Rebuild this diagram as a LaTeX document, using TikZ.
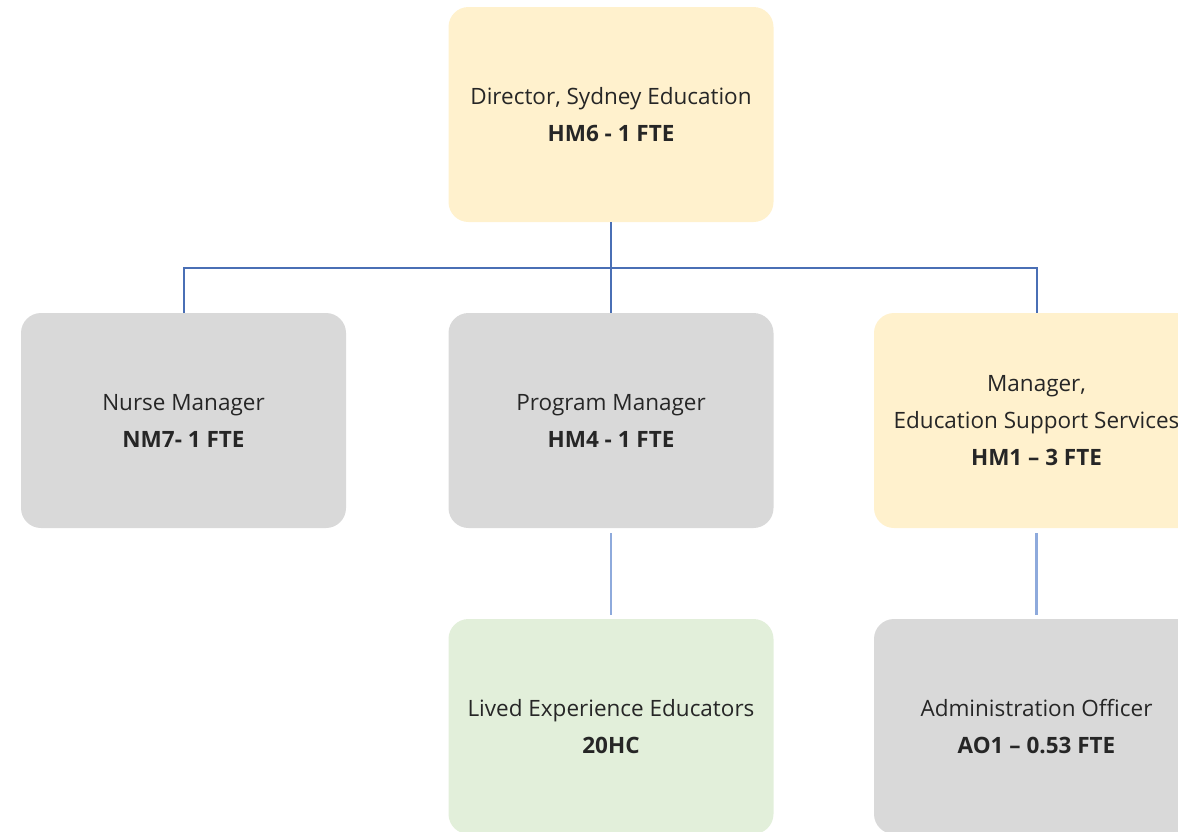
\documentclass[tikz,border=0pt]{standalone}
\usepackage{fontspec}
\setmainfont{Open Sans}
\definecolor{yel}{HTML}{FFF1CD}
\definecolor{gry}{HTML}{D9D9D9}
\definecolor{grn}{HTML}{E2EFDA}
\definecolor{dkblue}{HTML}{4A6FB5}
\definecolor{ltblue}{HTML}{8EAADC}
\definecolor{txt}{HTML}{262626}
\begin{document}
\begin{tikzpicture}[x=1pt,y=-1pt,
  box/.style={rounded corners=20pt,minimum width=325pt,minimum height=215pt,inner sep=0pt,
    align=center,text=txt,font=\fontsize{22.5}{37}\selectfont},
  conn/.style={draw=dkblue,line width=2pt},
  conn2/.style={draw=ltblue,line width=2.5pt}]
\useasboundingbox (0,0) rectangle (1178,831);
\clip (0,0) rectangle (1178,831);
\node[box,fill=yel] (dir) at (611,114.5) {Director, Sydney Education\\\textbf{HM6 - 1 FTE}};
\node[box,fill=gry] (nurse) at (183.5,420.5) {Nurse Manager\\\textbf{NM7- 1 FTE}};
\node[box,fill=gry] (prog) at (611,420.5) {Program Manager\\\textbf{HM4 - 1 FTE}};
\node[box,fill=yel] (ess) at (1036.5,420.5) {Manager,\\Education Support Services\\\textbf{HM1 – 3 FTE}};
\node[box,fill=grn] (lived) at (611,726.5) {Lived Experience Educators\\\textbf{20HC}};
\node[box,fill=gry] (admin) at (1036.5,726.5) {Administration Officer\\\textbf{AO1 – 0.53 FTE}};
\coordinate (bus) at (0,268);
\draw[conn] (dir.south) -- (dir.south |- bus);
\draw[conn] (nurse.north) -- (nurse.north |- bus) -- (ess.north |- bus) -- (ess.north);
\draw[conn] (dir.south |- bus) -- (prog.north);
\draw[conn2] ([yshift=-5pt]prog.south) -- ([yshift=4pt]lived.north);
\draw[conn2] ([yshift=-5pt]ess.south) -- ([yshift=4pt]admin.north);
\end{tikzpicture}
\end{document}
